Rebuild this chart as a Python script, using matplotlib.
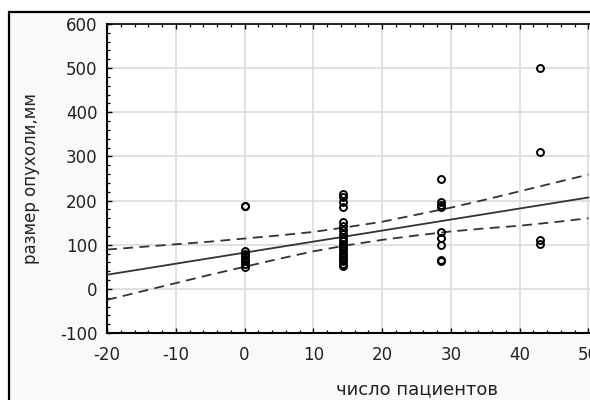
#!/usr/bin/env python3
import matplotlib
matplotlib.use("Agg")
import matplotlib.pyplot as plt
from matplotlib.patches import Rectangle
from matplotlib.ticker import MultipleLocator

# patients per group (x) and tumour sizes
group_x = [0, 14.3, 28.6, 42.9]
size_g0 = [188, 188, 86, 80, 74, 68, 62, 56, 50]
size_g1 = [215, 208, 196, 186, 152, 143, 133, 124, 115, 108, 102, 97,
           92, 87, 82, 77, 72, 67, 62, 57, 52]
size_g2 = [249, 197, 190, 186, 129, 115, 99, 66, 64]
size_g3 = [500, 310, 111, 102]

# regression line and 95% band
fit_x = [-20, 50]
fit_y = [32, 207]
band_x = [-20, -15, -10, -5, 0, 5, 10, 15, 20, 25, 30, 35, 40, 45, 50]
band_hi = [89, 95, 101, 107, 114, 121, 129, 140, 152, 168, 184, 202, 221, 240, 259]
band_lo = [-25, -6, 13, 32, 50, 68, 85, 99, 111, 121, 130, 137, 143, 151, 160]

x_label = "число пациентов"
y_label = "размер опухоли,мм"


def main():
    plt.rcParams['font.family'] = ['DejaVu Sans']
    plt.rcParams['axes.unicode_minus'] = False
    fig = plt.figure(figsize=(5.9, 4.0), dpi=100)
    fig.patch.set_facecolor('white')

    # outer window frame, cropped on the right and bottom
    frame = Rectangle((9 / 590, -0.1), 1.2, 1 - 12.5 / 400 + 0.1,
                      transform=fig.transFigure, facecolor='#f9f9f9',
                      edgecolor='black', linewidth=1.6, zorder=-10)
    fig.patches.append(frame)

    ax = fig.add_axes([107 / 590, 67 / 400, 619 / 590, 309 / 400])
    ax.set_facecolor('white')

    xs, ys = [], []
    for gx, sizes in zip(group_x, [size_g0, size_g1, size_g2, size_g3]):
        xs += [gx] * len(sizes)
        ys += sizes
    ax.plot(xs, ys, 'o', mfc='none', mec='black', ms=5, mew=1.4, zorder=4)

    ax.plot(fit_x, fit_y, '-', color='#333333', lw=1.3, zorder=3)
    ax.plot(band_x, band_hi, color='#333333', lw=1.3, dashes=(5.5, 3.5), zorder=3)
    ax.plot(band_x, band_lo, color='#333333', lw=1.3, dashes=(5.5, 3.5), zorder=3)

    ax.set_xlim(-20, 70)
    ax.set_ylim(-100, 600)
    ax.xaxis.set_major_locator(MultipleLocator(10))
    ax.xaxis.set_minor_locator(MultipleLocator(2))
    ax.yaxis.set_major_locator(MultipleLocator(100))
    ax.yaxis.set_minor_locator(MultipleLocator(20))

    ax.grid(True, which='major', color='#dcdcdc', lw=1.2, zorder=0)
    ax.set_axisbelow(True)

    for side in ['left', 'bottom']:
        ax.spines[side].set_linewidth(1.5)
    ax.spines['top'].set_linewidth(1.2)
    ax.spines['right'].set_visible(False)

    ax.tick_params(which='both', direction='in', top=True, right=False,
                   color='black', labelcolor='#222222')
    ax.tick_params(which='major', length=3.5, width=1.0, labelsize=12)
    ax.tick_params(which='minor', length=2.2, width=0.9)
    ax.tick_params(axis='x', which='major', pad=9)
    ax.tick_params(axis='y', which='major', pad=7)

    ax.set_xlabel(x_label, fontsize=13, color='#222222', labelpad=12)
    ax.set_ylabel(y_label, fontsize=12, color='#222222', labelpad=14)

    plt.savefig("out.png", dpi=100)
    print("[SAVED] out.png")


if __name__ == "__main__":
    main()
